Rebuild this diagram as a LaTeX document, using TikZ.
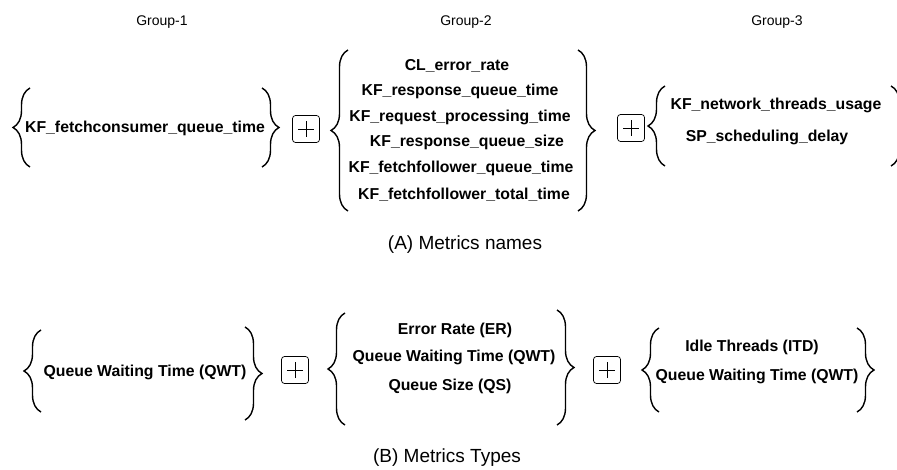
\documentclass[tikz,border=0pt]{standalone}
\usepackage{fontspec}
\setmainfont{Liberation Sans}
\usepackage{tikz}
\usetikzlibrary{decorations.pathreplacing}

\tikzset{
    grp/.style={font=\fontsize{14}{16}\selectfont},
    metric/.style={font=\bfseries\fontsize{15.8}{18}\selectfont, inner sep=1pt},
    capt/.style={font=\fontsize{19}{21}\selectfont},
    curly/.style={decorate, decoration={brace, amplitude=17pt, aspect=0.5}, line width=1.4pt},
    plusbox/.style={draw, rounded corners=3pt, minimum size=27pt, inner sep=0pt, line width=0.7pt,
        path picture={\draw[line width=0.7pt] (path picture bounding box.center) +(-8pt,0) -- +(8pt,0) +(0,-8pt) -- +(0,8pt);}}
}

\begin{document}
\begin{tikzpicture}[x=1pt, y=-1pt]
    \useasboundingbox (0,0) rectangle (897,470);
    \clip (0,0) rectangle (897,470);
    % group titles
    \node[grp] (g1) at (162,22) {Group-1};
    \node[grp] (g2) at (466,22) {Group-2};
    \node[grp] (g3) at (777,22) {Group-3};

    % (A) metric names
    \draw[curly] (30,167) -- (30,88);
    \node[metric] (a1) at (145,128) {KF\_fetchconsumer\_queue\_time};
    \draw[curly] (262,88) -- (262,167);
    \node[plusbox] (pa1) at (306,129) {};
    \draw[curly] (348,211) -- (348,50);
    \node[metric] (a2) at (457,66) {CL\_error\_rate};
    \node[metric] (a3) at (460,91) {KF\_response\_queue\_time};
    \node[metric] (a4) at (460,117) {KF\_request\_processing\_time};
    \node[metric] (a5) at (467,142) {KF\_response\_queue\_size};
    \node[metric] (a6) at (461,168) {KF\_fetchfollower\_queue\_time};
    \node[metric] (a7) at (464,195) {KF\_fetchfollower\_total\_time};
    \draw[curly] (578,50) -- (578,211);
    \node[plusbox] (pa2) at (631,128) {};
    \draw[curly] (665,166) -- (665,86);
    \node[metric] (a8) at (776,105) {KF\_network\_threads\_usage};
    \node[metric] (a9) at (767,137) {SP\_scheduling\_delay};
    \draw[curly] (891,86) -- (891,166);
    \node[capt] (ca) at (465,245) {(A) Metrics names};

    % (B) metric types
    \draw[curly] (41,412) -- (41,330);
    \node[metric] (b1) at (145,372) {Queue Waiting Time (QWT)};
    \draw[curly] (245,327) -- (245,420);
    \node[plusbox] (pb1) at (295,370) {};
    \draw[curly] (345,425) -- (345,313);
    \node[metric] (b2) at (455,330) {Error Rate (ER)};
    \node[metric] (b3) at (454,357) {Queue Waiting Time (QWT)};
    \node[metric] (b4) at (450,386) {Queue Size (QS)};
    \draw[curly] (557,310) -- (557,425);
    \node[plusbox] (pb2) at (607,370) {};
    \draw[curly] (659,412) -- (659,328);
    \node[metric] (b5) at (752,347) {Idle Threads (ITD)};
    \node[metric] (b6) at (757,376) {Queue Waiting Time (QWT)};
    \draw[curly] (857,328) -- (857,412);
    \node[capt] (cb) at (447,458) {(B) Metrics Types};
\end{tikzpicture}
\end{document}
